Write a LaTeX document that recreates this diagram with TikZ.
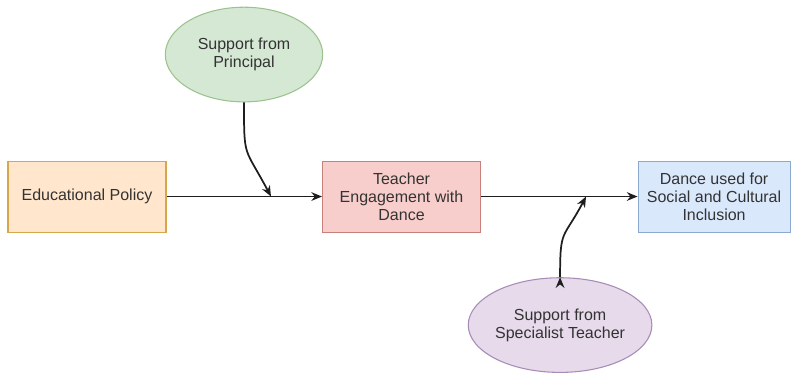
\documentclass[tikz,border=0pt]{standalone}
\usepackage{fontspec}
\setmainfont{Liberation Sans}
\usetikzlibrary{positioning,shapes.geometric,arrows.meta}

\definecolor{policyfill}{HTML}{FFE6CC}
\definecolor{policydraw}{HTML}{D7A84A}
\definecolor{teacherfill}{HTML}{F8CECC}
\definecolor{teacherdraw}{HTML}{C8807D}
\definecolor{dancefill}{HTML}{DAE8FC}
\definecolor{dancedraw}{HTML}{8EA9D0}
\definecolor{princfill}{HTML}{D5E8D4}
\definecolor{princdraw}{HTML}{9CC38E}
\definecolor{specfill}{HTML}{E6DAEB}
\definecolor{specdraw}{HTML}{A98BB8}
\definecolor{textgray}{HTML}{333333}
\definecolor{linegray}{HTML}{1E1E1E}

\begin{document}
\begin{tikzpicture}[>={Stealth[length=8pt,width=6.5pt]},on grid,
   font=\fontsize{12}{13.5}\selectfont,
   box/.style={rectangle,draw,line width=0.8pt,minimum width=118.5pt,
      minimum height=53.25pt,align=center,text=textgray,inner sep=2pt},
   support/.style={ellipse,draw,line width=0.8pt,minimum width=118pt,
      minimum height=71pt,align=center,text=textgray,inner sep=0pt},
   link/.style={->,draw=linegray,line width=1.3pt}]
   \useasboundingbox (0,0) rectangle (594pt,-281.25pt);
   \node[box,fill=policyfill,draw=policydraw] (policy) at (65.25pt,-147.4pt) {Educational Policy};
   \node[box,fill=teacherfill,draw=teacherdraw] (teacher) [right=235.9pt of policy] {Teacher\\Engagement with\\Dance};
   \node[box,fill=dancefill,draw=dancedraw,minimum width=114pt] (dance) [right=234.4pt of teacher] {Dance used for\\Social and Cultural\\Inclusion};
   \node[support,fill=princfill,draw=princdraw] (principal) [above right=106.5pt and 117.75pt of policy] {Support from\\Principal};
   \node[support,fill=specfill,draw=specdraw,minimum width=115.5pt] (specialist) [below right=96.4pt and 118.9pt of teacher] {Support from\\Specialist Teacher};
   \coordinate[right=138pt of policy] (j_1);
   \coordinate[right=138.4pt of teacher] (j_2);
    \path[link]
    (policy) edge (teacher)
    (teacher) edge (dance)
    (principal.south) edge [out=-90, in=118, looseness=1.5] (j_1)
    (specialist.north) edge [out=90, in=-118, looseness=1.5] (j_2);
\end{tikzpicture}
\end{document}
